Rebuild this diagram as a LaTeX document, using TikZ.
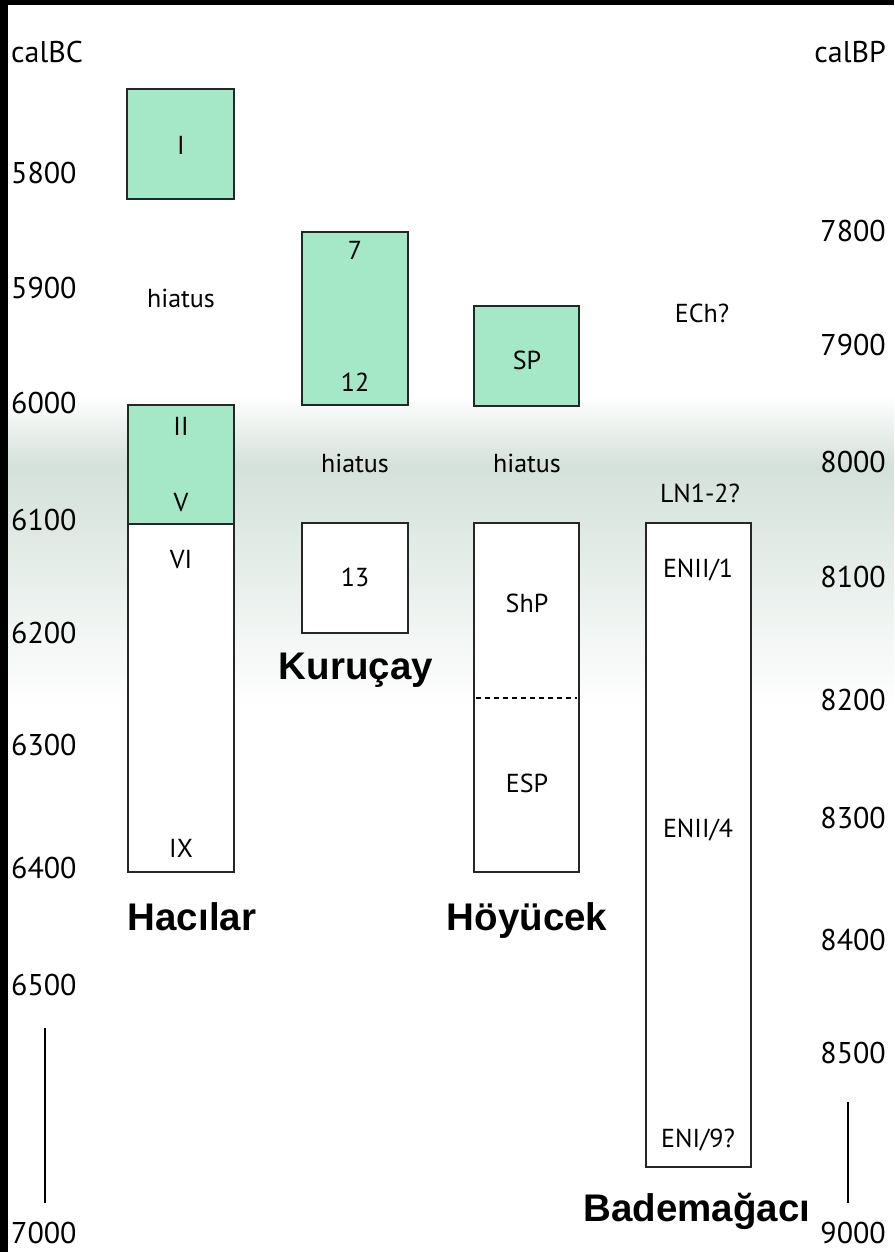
\documentclass[tikz,border=0pt]{standalone}
\usepackage{fontspec}
\setmainfont{PT Sans}
\newfontfamily\sitefont{Liberation Sans}
\usetikzlibrary{positioning}
\definecolor{PhaseGreen}{RGB}{164,232,200}
\definecolor{BandGray}{RGB}{212,225,218}

\begin{document}
\begin{tikzpicture}[x=1pt,y=-1pt,
    phase/.style={draw=black!85,line width=2.2pt},
    lab/.style={font=\fontsize{26}{31}\selectfont,inner sep=0pt},
    axislab/.style={font=\fontsize{30}{36}\selectfont,inner sep=0pt},
    site/.style={font=\sitefont\bfseries\fontsize{38.5}{46}\selectfont,inner sep=0pt,anchor=base}]
  \useasboundingbox (0,0) rectangle (894,1252);
  \fill[white] (0,0) rectangle (894,1252);
  % grey band
  \shade[top color=white,bottom color=BandGray] (8,395) rectangle (894,466);
  \shade[top color=BandGray,bottom color=white] (8,466) rectangle (894,710);
  % frame edges
  \fill[black] (0,0) rectangle (894,5);
  \fill[black] (0,0) rectangle (8,1252);
  % axes
  \foreach \yr/\y in {calBC/52,5800/173,5900/288,6000/403,6100/520,6200/633,
      6300/745,6400/868,6500/985,7000/1233}
    \node[axislab,anchor=west] (bc\yr) at (11,\y) {\yr};
  \foreach \yr/\y in {calBP/52,7800/231,7900/345,8000/462,8100/577,8200/700,
      8300/818,8400/940,8500/1053,9000/1233}
    \node[axislab,anchor=east] (bp\yr) at (886,\y) {\yr};
  \coordinate (bcTop) at (45,1028);
  \coordinate (bcBot) at (45,1203);
  \coordinate (bpTop) at (848,1102);
  \coordinate (bpBot) at (848,1203);
  \draw[line width=2pt] (bcTop) -- (bcBot);
  \draw[line width=2pt] (bpTop) -- (bpBot);
  % Hacilar
  \fill[PhaseGreen] (127,89) rectangle (234,199);
  \draw[phase] (127,89) rectangle (234,199);
  \fill[PhaseGreen] (128,405) rectangle (234,524);
  \fill[white] (128,524) rectangle (234,872);
  \draw[phase] (128,405) rectangle (234,872);
  \draw[phase] (128,524) -- (234,524);
  \node[lab] (hacI) at (181,145) {I};
  \node[lab] (hacHiatus) at (181,298) {hiatus};
  \node[lab] (hacII) at (181,426) {II};
  \node[lab] (hacV) at (181,503) {V};
  \node[lab] (hacVI) at (181,560) {VI};
  \node[lab] (hacIX) at (181,848) {IX};
  \node[site] (hacilar) at (192,930) {Hacılar};
  % Kurucay
  \fill[PhaseGreen] (302,232) rectangle (408,405);
  \draw[phase] (302,232) rectangle (408,405);
  \fill[white] (302,523) rectangle (408,633);
  \draw[phase] (302,523) rectangle (408,633);
  \node[lab] (kur7) at (355,250) {7};
  \node[lab] (kur12) at (355,382) {12};
  \node[lab] (kurHiatus) at (355,463) {hiatus};
  \node[lab] (kur13) at (355,577) {13};
  \node[site] (kurucay) at (356,679) {Kuruçay};
  % Hoyucek
  \fill[PhaseGreen] (474,306) rectangle (579,406);
  \draw[phase] (474,306) rectangle (579,406);
  \fill[white] (474,523) rectangle (579,872);
  \draw[phase] (474,523) rectangle (579,872);
  \draw[line width=2pt,dash pattern=on 5pt off 4pt] (476,698) -- (577,698);
  \node[lab] (hoySP) at (527,360) {SP};
  \node[lab] (hoyHiatus) at (527,463) {hiatus};
  \node[lab] (hoyShP) at (527,603) {ShP};
  \node[lab] (hoyESP) at (527,783) {ESP};
  \node[site] (hoyucek) at (527,930) {Höyücek};
  % Bademagaci
  \fill[white] (646,523) rectangle (751,1167);
  \draw[phase] (646,523) rectangle (751,1167);
  \node[lab] (badECh) at (702,313) {ECh?};
  \node[lab] (badLN) at (700,493) {LN1-2?};
  \node[lab] (badENIIa) at (698,570) {ENII/1};
  \node[lab] (badENIIb) at (698,830) {ENII/4};
  \node[lab] (badENI) at (698,1140) {ENI/9?};
  \node[site] (bademagaci) at (697,1221) {Bademağacı};
\end{tikzpicture}
\end{document}
